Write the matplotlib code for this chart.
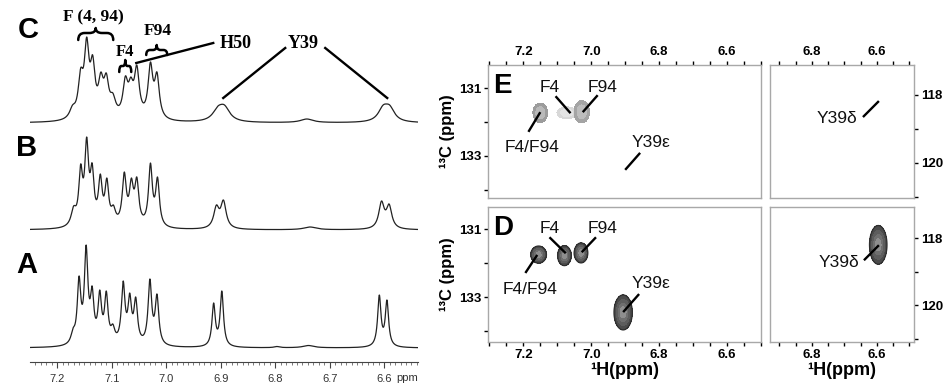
import numpy as np
import matplotlib
matplotlib.use("Agg")
import matplotlib.pyplot as plt
from matplotlib.path import Path
from matplotlib.patches import PathPatch

plt.rcParams['font.family'] = ['Liberation Sans', 'DejaVu Sans']

# ---------------- 1D spectra: peak lists ----------------
# positions (ppm), apparent heights (px above baseline), half widths (ppm)
a_pos = [7.171, 7.160, 7.147, 7.136, 7.122, 7.110, 7.098, 7.079, 7.067, 7.056, 7.030, 7.017,
         6.913, 6.898, 6.797, 6.739, 6.609, 6.595]
a_h   = [20, 72, 103, 62, 58, 57, 24, 67, 55, 51, 69, 54, 45, 57, 1.5, 2.5, 53, 48]
a_w   = [0.0045, 0.0039, 0.0039, 0.0039, 0.0039, 0.0039, 0.0045, 0.004, 0.004, 0.004, 0.004, 0.004,
         0.0037, 0.0037, 0.006, 0.012, 0.0037, 0.0037]

b_pos = [7.170, 7.157, 7.146, 7.136, 7.121, 7.109, 7.097, 7.077, 7.064, 7.054, 7.029, 7.016,
         6.908, 6.895, 6.736, 6.605, 6.591]
b_h   = [24, 66, 93, 67, 56, 52, 25, 58, 52, 53, 67, 53, 25, 30, 3, 29, 26]
b_w   = [0.0055, 0.0042, 0.0042, 0.0042, 0.0042, 0.0042, 0.005, 0.0045, 0.0045, 0.0045, 0.0042, 0.0042,
         0.006, 0.006, 0.014, 0.006, 0.006]

c_pos = [7.172, 7.157, 7.146, 7.135, 7.120, 7.110, 7.098, 7.075, 7.065, 7.054, 7.029, 7.017,
         6.905, 6.893, 6.742, 6.602, 6.590]
c_h   = [18, 55, 86, 68, 51, 50, 30, 47, 46, 58, 61, 51, 17, 18, 4, 18, 18]
c_w   = [0.0065, 0.0055, 0.0052, 0.0052, 0.0055, 0.0055, 0.0065, 0.0055, 0.0055, 0.0055, 0.0052, 0.0052,
         0.012, 0.012, 0.014, 0.011, 0.011]

# baseline offsets of the stacked traces (px units)
offsets = {'A': 0, 'B': 118, 'C': 225}

x_ticks_1d = [7.2, 7.1, 7.0, 6.9, 6.8, 6.7, 6.6]

# ---------------- 2D spectra: cross peaks ----------------
# D (dark)
d_x  = [7.155, 7.079, 7.030, 6.906]
d_y  = [131.75, 131.78, 131.70, 133.45]
d_sx = [0.011, 0.0095, 0.0095, 0.0128]
d_sy = [0.12, 0.14, 0.14, 0.245]
d2_x, d2_y, d2_sx, d2_sy = [6.596], [118.2], [0.0128], [0.275]
# E (light)
e_x    = [7.150, 7.072, 7.028]
e_y    = [131.73, 131.73, 131.70]
e_sx   = [0.0105, 0.014, 0.011]
e_sy   = [0.14, 0.085, 0.16]
e_tone = ['#9c9c9c', '#d8d8d8', '#a4a4a4']
e_core = ['#b9b9b9', '#e4e4e4', '#bdbdbd']

W, H = 947, 389
fig = plt.figure(figsize=(W / 100, H / 100), dpi=100)
fig.patch.set_facecolor('white')


def fx(px):
    return px / W


def fy(py):
    return 1 - py / H


def spectrum(x, pos, h, w):
    pos = np.asarray(pos); h = np.asarray(h, float); w = np.asarray(w)
    M = 1.0 / (1.0 + ((pos[:, None] - pos[None, :]) / w[None, :]) ** 2)
    amps = np.clip(np.linalg.solve(M, h), 0.3, None)
    return (amps[None, :] / (1.0 + ((x[:, None] - pos[None, :]) / w[None, :]) ** 2)).sum(axis=1)


# ---------------- 1D panel ----------------
ax1 = fig.add_axes([fx(30), 27 / H, 388 / W, 362 / H])
xs = np.linspace(7.25, 6.538, 4000)
for key, (p, h, w) in {'A': (a_pos, a_h, a_w), 'B': (b_pos, b_h, b_w), 'C': (c_pos, c_h, c_w)}.items():
    ax1.plot(xs, offsets[key] + spectrum(xs, p, h, w), color='#222222', lw=0.9)
ax1.set_xlim(7.25, 6.538)
ax1.set_ylim(-14, 348)
for s in ['left', 'right', 'top']:
    ax1.spines[s].set_visible(False)
ax1.spines['bottom'].set_color('#444444')
ax1.spines['bottom'].set_linewidth(0.8)
ax1.set_yticks([])
ax1.set_xticks(x_ticks_1d)
ax1.set_xticklabels([f'{t:.1f}' for t in x_ticks_1d])
ax1.set_xticks(np.arange(6.54, 7.25, 0.01), minor=True)
ax1.tick_params(axis='x', which='major', length=4, width=0.8, color='#444444',
                labelsize=8, labelcolor='#333333', pad=5)
ax1.tick_params(axis='x', which='minor', length=2, width=0.6, color='#666666')
fig.text(fx(407), fy(378), 'ppm', ha='center', va='center', fontsize=8, color='#333333')


def px2ppm(px):
    return 7.2 - (px - 57) / 545.0


def py2d(py):
    return 348 - py


def brace(ax, pxa, pxb, ybot, ymid, ytop, lw=1.8):
    xa, xb = px2ppm(pxa), px2ppm(pxb)
    xm = 0.5 * (xa + xb)
    d = (xb - xa) * 0.18
    yb, ym, yt = py2d(ybot), py2d(ymid), py2d(ytop)
    verts = [(xa, yb), (xa, ym), (xa + d, ym), (xm - d, ym), (xm, ym), (xm, yt),
             (xm, ym), (xm + d, ym), (xb - d, ym), (xb, ym), (xb, yb)]
    codes = [Path.MOVETO, Path.CURVE3, Path.CURVE3, Path.LINETO, Path.CURVE3, Path.CURVE3,
             Path.CURVE3, Path.CURVE3, Path.LINETO, Path.CURVE3, Path.CURVE3]
    ax.add_patch(PathPatch(Path(verts, codes), fill=False, lw=lw, color='black',
                           capstyle='round', joinstyle='round'))


serif = dict(family=['Liberation Serif', 'DejaVu Serif'], fontweight='bold', color='black')
ax1.text(px2ppm(93), py2d(17), 'F (4, 94)', ha='center', va='center', fontsize=12.5, **serif)
brace(ax1, 78, 113, 40, 33, 28)
ax1.text(px2ppm(125), py2d(52), 'F4', ha='center', va='center', fontsize=12, **serif)
brace(ax1, 119, 131, 72, 66, 60)
ax1.text(px2ppm(158), py2d(31), 'F94', ha='center', va='center', fontsize=12.5, **serif)
brace(ax1, 146, 167, 55, 50, 45)
ax1.text(px2ppm(235), py2d(44), 'H50', ha='center', va='center', fontsize=13, **serif)
ax1.plot([px2ppm(136), px2ppm(213)], [py2d(63), py2d(43)], color='black', lw=1.7)
ax1.text(px2ppm(303), py2d(44), 'Y39', ha='center', va='center', fontsize=13, **serif)
ax1.plot([px2ppm(285), px2ppm(223)], [py2d(48), py2d(98)], color='black', lw=1.7)
ax1.plot([px2ppm(325), px2ppm(387)], [py2d(48), py2d(98)], color='black', lw=1.7)

for lab, (px, py) in {'C': (28, 30), 'B': (27, 148), 'A': (27, 265)}.items():
    fig.text(fx(px), fy(py), lab, ha='center', va='center', fontsize=21, fontweight='bold')

# ---------------- 2D panels ----------------
axE = fig.add_axes([fx(488), (389 - 198) / H, 273 / W, 133 / H])
axE2 = fig.add_axes([fx(770), (389 - 198) / H, 144 / W, 133 / H])
axD = fig.add_axes([fx(488), (389 - 342) / H, 273 / W, 135 / H])
axD2 = fig.add_axes([fx(770), (389 - 342) / H, 144 / W, 135 / H])

axE.set_xlim(7.304, 6.5); axE.set_ylim(134.24, 130.32)
axD.set_xlim(7.304, 6.5); axD.set_ylim(134.32, 130.35)
axE2.set_xlim(6.929, 6.486); axE2.set_ylim(121.03, 117.12)
axD2.set_xlim(6.929, 6.486); axD2.set_ylim(121.1, 117.07)


def gauss_field(ax, xs_, ys_, sxs, sys_):
    x0, x1 = ax.get_xlim(); y0, y1 = ax.get_ylim()
    gx, gy = np.meshgrid(np.linspace(x0, x1, 500), np.linspace(y0, y1, 400))
    fields = [np.exp(-0.5 * (((gx - cx) / sx) ** 2 + ((gy - cy) / sy) ** 2))
              for cx, cy, sx, sy in zip(xs_, ys_, sxs, sys_)]
    return gx, gy, fields


dark_levels = [0.11, 0.3, 0.55, 0.8, 2.0]
dark_cols = ['#4b4b4b', '#5d5d5d', '#6f6f6f', '#8e8e8e']
for ax, xs_, ys_, sxs, sys_ in [(axD, d_x, d_y, d_sx, d_sy), (axD2, d2_x, d2_y, d2_sx, d2_sy)]:
    gx, gy, fields = gauss_field(ax, xs_, ys_, sxs, sys_)
    Z = np.sum(fields, axis=0)
    ax.contourf(gx, gy, Z, levels=dark_levels, colors=dark_cols)
    ax.contour(gx, gy, Z, levels=[0.11], colors=['#2e2e2e'], linewidths=0.9)

gx, gy, fields = gauss_field(axE, e_x, e_y, e_sx, e_sy)
for f, tone, core in zip(fields, e_tone, e_core):
    axE.contourf(gx, gy, f, levels=[0.12, 0.45, 2.0], colors=[tone, core])

# axes styling
for ax in [axE, axE2, axD, axD2]:
    for s in ax.spines.values():
        s.set_color('#a8a8a8'); s.set_linewidth(1.0)
    ax.tick_params(which='both', direction='out', length=3, width=1.0, color='black',
                   labelsize=9.5, pad=2)

xt_main = np.round(np.arange(6.5, 7.3001, 0.05), 2)
xt_side = np.round(np.arange(6.5, 6.9001, 0.05), 2)
lab_main = ['7.2', '7.0', '6.8', '6.6']
lab_side = ['6.8', '6.6']


def xlabels(ticks, labs):
    return [f'{t:.1f}' if f'{t:.1f}' in labs and abs(t * 10 - round(t * 10)) < 1e-6 else '' for t in ticks]


for ax, ticks, labs in [(axE, xt_main, lab_main), (axD, xt_main, lab_main),
                        (axE2, xt_side, lab_side), (axD2, xt_side, lab_side)]:
    ax.set_xticks(ticks)
    ax.set_xticklabels(xlabels(ticks, labs), fontweight='bold', fontsize=9.5)

for ax in [axE, axE2]:
    ax.xaxis.tick_top()
for ax in [axD, axD2]:
    ax.xaxis.tick_bottom()

for ax in [axE, axD]:
    ax.set_yticks([131, 132, 133, 134])
    ax.set_yticklabels(['131', '', '133', ''], fontweight='bold', fontsize=9.5)
    ax.yaxis.tick_left()
for ax in [axE2, axD2]:
    ax.set_yticks([118, 119, 120, 121])
    ax.set_yticklabels(['118', '', '120', ''], fontweight='bold', fontsize=9.5)
    ax.yaxis.tick_right()

for ax in [axE, axD]:
    ax.set_ylabel('¹³C (ppm)', fontsize=12, fontweight='bold', labelpad=3)
axD.set_xlabel('¹H(ppm)', fontsize=13, fontweight='bold', labelpad=1)
axD2.set_xlabel('¹H(ppm)', fontsize=13, fontweight='bold', labelpad=1)

# annotations
lab_kw = dict(ha='center', va='center', fontsize=12.5, color='#111111')
line_kw = dict(color='black', lw=1.7, solid_capstyle='butt')


def annotate(ax, text, tx, ty, x0, y0, x1, y1):
    ax.text(tx, ty, text, **lab_kw)
    ax.plot([x0, x1], [y0, y1], **line_kw)


annotate(axD, 'F4/F94', 7.179, 132.79, 7.194, 132.29, 7.159, 131.76)
annotate(axD, 'F4', 7.123, 130.97, 7.123, 131.24, 7.075, 131.71)
annotate(axD, 'F94', 6.966, 130.97, 6.986, 131.24, 7.028, 131.68)
annotate(axD, 'Y39ε', 6.823, 132.59, 6.859, 132.91, 6.906, 133.44)
annotate(axD2, 'Y39δ', 6.718, 118.72, 6.640, 118.66, 6.594, 118.21)

annotate(axE, 'F4/F94', 7.173, 132.74, 7.185, 132.29, 7.150, 131.71)
annotate(axE, 'F4', 7.123, 130.97, 7.105, 131.24, 7.061, 131.74)
annotate(axE, 'F94', 6.966, 130.97, 6.981, 131.21, 7.025, 131.71)
annotate(axE, 'Y39ε', 6.823, 132.59, 6.856, 132.91, 6.900, 133.41)
annotate(axE2, 'Y39δ', 6.723, 118.68, 6.643, 118.65, 6.594, 118.18)

axE.text(7.262, 130.95, 'E', ha='center', va='center', fontsize=20, fontweight='bold')
axD.text(7.260, 130.98, 'D', ha='center', va='center', fontsize=20, fontweight='bold')

fig.savefig('out.png', dpi=100, facecolor='white')
